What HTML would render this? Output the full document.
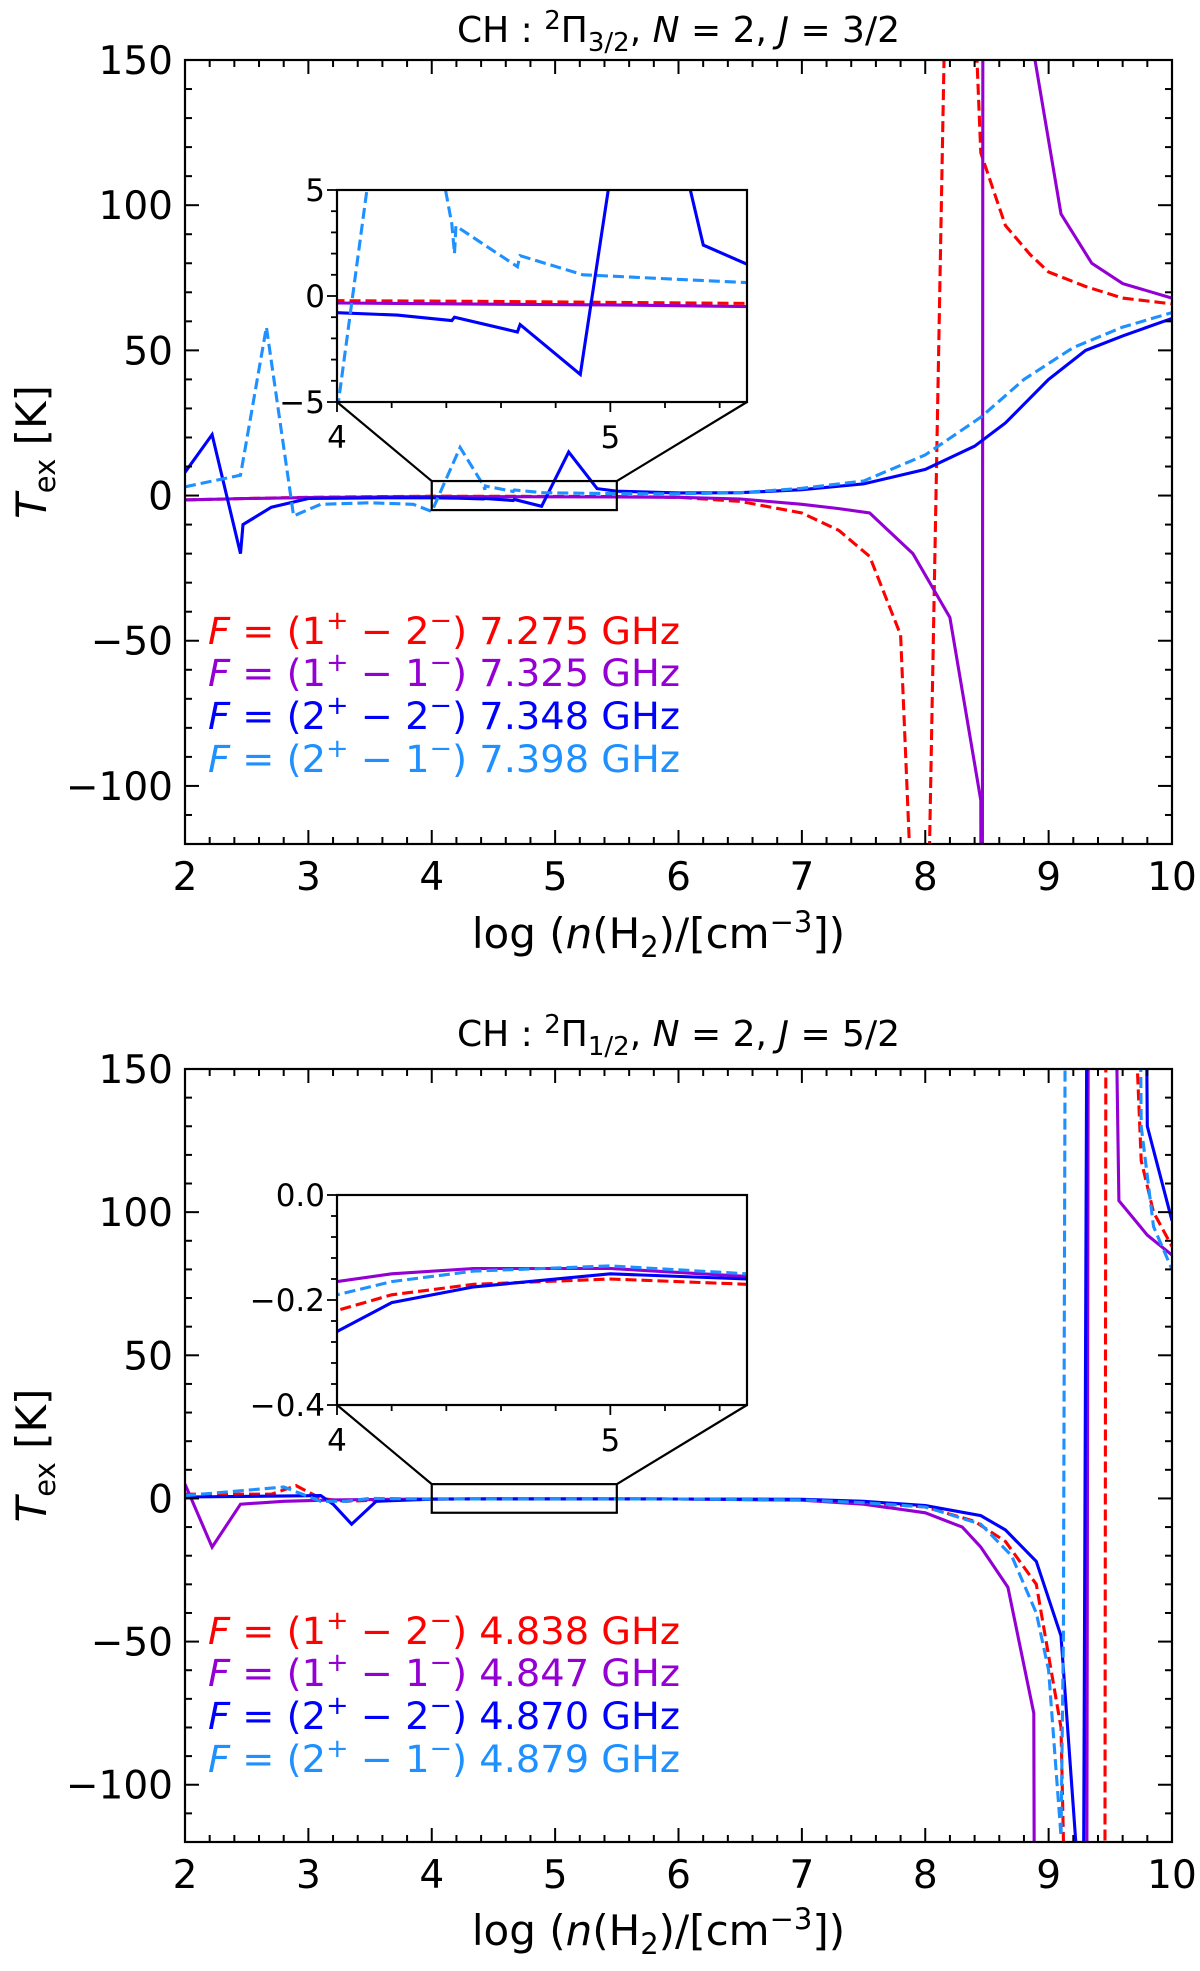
<!DOCTYPE html>
<html><head><meta charset="utf-8">
<style>
html,body{margin:0;padding:0;background:#fff;overflow:hidden;width:1200px;height:1971px;}
svg{display:block;font-family:"DejaVu Sans","Liberation Sans",sans-serif;}
</style></head>
<body>
<svg id="fig" width="1200" height="1971" viewBox="0 0 1200 1971" xmlns="http://www.w3.org/2000/svg"></svg>
<script>
// ---------- DATA (top panel: 2Pi3/2 N=2 J=3/2) ----------
const topRedX = [2,2.5,3,3.5,4,4.5,5,5.5,6,6.5,7,7.3,7.55,7.8,7.95,8.0,8.2,8.4,8.45,8.65,8.85,9.0,9.3,9.6,10];
const topRedY = [-1.5,-1,-0.6,-0.4,-0.22,-0.25,-0.3,-0.35,-0.6,-2,-6,-12,-21,-48,-200,-200,260,170,118,93,83,77,72,68,66];
const topPurX = [2,2.5,3,3.5,4,4.5,5,5.5,6,6.5,7,7.3,7.55,7.9,8.2,8.45,8.46,8.47,8.85,9.1,9.35,9.6,10];
const topPurY = [-1.5,-1,-0.7,-0.5,-0.33,-0.38,-0.42,-0.5,-0.6,-1.2,-3,-4.5,-6,-20,-42,-105,-400,400,160,97,80,73,68];
const topBluX = [2,2.22,2.45,2.47,2.7,3,3.5,4,4.22,4.42,4.43,4.66,4.67,4.89,5.11,5.34,5.5,6,6.5,7,7.5,8,8.4,8.65,9,9.3,9.6,10];
const topBluY = [8,21,-20,-10,-4,-1,-0.8,-0.79,-0.9,-1.16,-1.0,-1.7,-1.35,-3.7,15,2.4,1.5,0.9,1,2,4,9,17,25,40,50,55,61];
const topLbX = [2,2.45,2.66,2.88,3.1,3.5,3.85,4.0,4.23,4.42,4.43,4.435,4.66,4.67,4.9,5.5,6,6.5,7,7.5,8,8.45,8.8,9.2,9.6,10];
const topLbY = [3,7,58,-7,-3,-2.5,-3,-5.5,16.6,3.4,2.0,3.3,1.38,1.9,1.0,0.63,0.6,1.0,2.5,5,14,27,40,51,58,63];
// ---------- DATA (bottom panel: 2Pi1/2 N=2 J=5/2) ----------
const botRedX = [2,2.7,2.9,3.1,3.3,3.6,4,4.2,4.5,5,5.5,6,7,7.5,8,8.4,8.65,8.9,9.1,9.16,9.45,9.47,9.71,9.75,9.85,10];
const botRedY = [1.5,1.5,4.5,0,-1,-0.5,-0.22,-0.19,-0.17,-0.16,-0.17,-0.2,-0.5,-1.5,-3,-8,-15,-30,-80,-200,-400,400,160,118,100,88];
const botPurX = [2,2.22,2.45,2.8,3.2,4,4.2,4.5,5,5.5,6,7,7.5,8,8.3,8.45,8.67,8.88,8.9,9.3,9.33,9.55,9.57,9.8,10];
const botPurY = [5,-17,-2,-1,-0.5,-0.165,-0.15,-0.14,-0.14,-0.155,-0.2,-0.6,-2,-5,-10,-17,-31,-75,-400,-400,400,160,104,92,85];
const botBluX = [2,3.1,3.2,3.35,3.55,4,4.2,4.5,5,5.5,6,7,7.5,8,8.45,8.65,8.9,9.1,9.22,9.26,9.33,9.75,9.8,10];
const botBluY = [0.5,1,-2,-9,-1,-0.26,-0.205,-0.175,-0.15,-0.16,-0.2,-0.3,-1,-2.5,-6,-11,-22,-48,-120,-400,400,400,130,97];
const botLbX = [2,2.8,3.1,3.3,3.5,4,4.2,4.5,5,5.5,6,7,7.5,8,8.45,8.7,8.9,9.0,9.1,9.12,9.15,9.7,9.75,9.85,10];
const botLbY = [1,4,-1,-1,0,-0.19,-0.165,-0.145,-0.135,-0.15,-0.2,-0.5,-1.5,-3,-9,-20,-40,-60,-118,-48,400,400,130,95,80];
// ticks
const mainXTicks = [2,3,4,5,6,7,8,9,10];
const mainYTicks = [-100,-50,0,50,100,150];
const topInsetYTicks = [-5,0,5];
const botInsetYTicks = [-0.4,-0.2,0.0];
const botInsetYLabels = ["\u22120.4","\u22120.2","0.0"];
const insetXTicks = [4,5];
const topFreqs = ["7.275","7.325","7.348","7.398"];
const botFreqs = ["4.838","4.847","4.870","4.879"];
const transLo = ["1","1","2","2"];
const transUp = ["2","1","2","1"];

const NS="http://www.w3.org/2000/svg";
const svg=document.getElementById('fig');
function mk(tag,attrs,parent){const e=document.createElementNS(NS,tag);for(const k in attrs)e.setAttribute(k,attrs[k]);(parent||svg).appendChild(e);return e;}
const colors=["#ff0000","#9400d3","#0000ff","#1e90ff"];
const dashes=["11,5","none","none","11,5"];
const LW=3.1;

function panel(id,P){
  const g=mk('g',{});
  
  
  const sx=v=>P.x0+(v-2)/8*(P.x1-P.x0);
  const sy=v=>P.y1-(v-(-120))/270*(P.y1-P.y0);
  const clip=mk('clipPath',{id:id+'clip'},g);
  mk('rect',{x:P.x0,y:P.y0,width:P.x1-P.x0,height:P.y1-P.y0},clip);
  const sg=mk('g',{'clip-path':'url(#'+id+'clip)'},g);
  const names=['series-1p-2m','series-1p-1m','series-2p-2m','series-2p-1m'];
  P.series.forEach((s,i)=>{
    const pts=s[0].map((x,j)=>sx(x).toFixed(1)+','+sy(s[1][j]).toFixed(1)).join(' ');
    const pl=mk('polyline',{points:pts,fill:'none',stroke:colors[i],'stroke-width':LW,'stroke-dasharray':dashes[i],'stroke-linejoin':'miter'},sg);
    
    
  });
  const fr=mk('rect',{x:P.x0,y:P.y0,width:P.x1-P.x0,height:P.y1-P.y0,fill:'none',stroke:'#000','stroke-width':2.2},g);
  
  
  for(let k=0;k<=40;k++){const v=2+k*0.2;const X=sx(v);const major=(k%5===0);const L=major?14:7;
    mk('line',{x1:X,y1:P.y1,x2:X,y2:P.y1-L,stroke:'#000','stroke-width':2},g);
    mk('line',{x1:X,y1:P.y0,x2:X,y2:P.y0+L,stroke:'#000','stroke-width':2},g);}
  mainXTicks.forEach(v=>{const t=mk('text',{x:sx(v),y:P.y1+46,'font-size':39,'text-anchor':'middle'},g);t.textContent=v;
    });
  for(let v=-120;v<=150;v+=10){const Y=sy(v);const major=(v%50===0);const L=major?14:7;
    mk('line',{x1:P.x0,y1:Y,x2:P.x0+L,y2:Y,stroke:'#000','stroke-width':2},g);
    mk('line',{x1:P.x1,y1:Y,x2:P.x1-L,y2:Y,stroke:'#000','stroke-width':2},g);}
  mainYTicks.forEach(v=>{const t=mk('text',{x:P.x0-12,y:sy(v)+14,'font-size':39,'text-anchor':'end'},g);t.textContent=v<0?'\u2212'+(-v):v;
    });
  const ti=mk('text',{x:(P.x0+P.x1)/2,y:P.titleY,'font-size':36,'text-anchor':'middle'},g);
  
  ti.innerHTML='CH :  <tspan dy="-13" font-size="26">2</tspan><tspan dy="13">\u03A0</tspan><tspan dy="9" font-size="26">'+P.sub+'</tspan><tspan dy="-9">,  </tspan><tspan font-style="italic">N</tspan> = 2,  <tspan font-style="italic">J</tspan> = '+P.J;
  const xl=mk('text',{x:(P.x0+P.x1)/2-20,y:P.xlabY,'font-size':42,'text-anchor':'middle'},g);
  
  xl.innerHTML='log (<tspan font-style="italic">n</tspan>(H<tspan dy="9" font-size="29">2</tspan><tspan dy="-9">)/[cm</tspan><tspan dy="-16" font-size="29">\u22123</tspan><tspan dy="16">])</tspan>';
  const yc=(P.y0+P.y1)/2;
  const yl=mk('text',{x:0,y:0,'font-size':42,'text-anchor':'middle',transform:'translate(46,'+yc+') rotate(-90)'},g);
  
  yl.innerHTML='<tspan font-style="italic">T</tspan><tspan dy="9" font-size="29">ex</tspan><tspan dy="-9"> [K]</tspan>';
  P.freqs.forEach((f,i)=>{const t=mk('text',{x:208,y:P.legY[i]+14,'font-size':37,fill:colors[i],textLength:472,lengthAdjust:'spacingAndGlyphs'},g);
    
    t.innerHTML='<tspan font-style="italic">F</tspan> = (<tspan>'+transLo[i]+'</tspan><tspan dy="-15" font-size="26">+</tspan><tspan dy="15"> \u2212 '+transUp[i]+'</tspan><tspan dy="-15" font-size="26">\u2212</tspan><tspan dy="15">) '+f+' GHz</tspan>';});
  const zr=mk('rect',{x:sx(4),y:sy(5),width:sx(5.5)-sx(4),height:sy(-5)-sy(5),fill:'none',stroke:'#000','stroke-width':2.2},g);
  
  const I=P.inset;
  mk('line',{x1:I.x0,y1:I.y1,x2:sx(4),y2:sy(5),stroke:'#000','stroke-width':2.2},g);
  mk('line',{x1:I.x1,y1:I.y1,x2:sx(5.5),y2:sy(5),stroke:'#000','stroke-width':2.2},g);
  const ig=mk('g',{},g);
  
  const ix=v=>I.x0+(v-4)/1.5*(I.x1-I.x0);
  const iy=v=>I.y1-(v-I.lo)/(I.hi-I.lo)*(I.y1-I.y0);
  mk('rect',{x:I.x0,y:I.y0,width:I.x1-I.x0,height:I.y1-I.y0,fill:'#fff'},ig);
  const ic=mk('clipPath',{id:id+'iclip'},ig);
  mk('rect',{x:I.x0,y:I.y0,width:I.x1-I.x0,height:I.y1-I.y0},ic);
  const isg=mk('g',{'clip-path':'url(#'+id+'iclip)'},ig);
  P.series.forEach((s,i)=>{
    const pts=s[0].map((x,j)=>ix(x).toFixed(1)+','+iy(Math.max(-1000,Math.min(1000,s[1][j]))).toFixed(1)).join(' ');
    const pl=mk('polyline',{points:pts,fill:'none',stroke:colors[i],'stroke-width':LW,'stroke-dasharray':dashes[i]},isg);
    
    
  });
  mk('rect',{x:I.x0,y:I.y0,width:I.x1-I.x0,height:I.y1-I.y0,fill:'none',stroke:'#000','stroke-width':2.2},ig);
  for(let k=0;k<=7;k++){const v=4+k*0.2;const X=ix(v);const L=(k===0||k===5)?10:6;
    mk('line',{x1:X,y1:I.y1,x2:X,y2:I.y1+L,stroke:'#000','stroke-width':1.8},ig);}
  insetXTicks.forEach(v=>{const t=mk('text',{x:ix(v),y:I.y1+46,'font-size':31,'text-anchor':'middle'},ig);t.textContent=v;
    });
  const nMinor=10;
  for(let k=0;k<=nMinor;k++){const v=I.lo+k*(I.hi-I.lo)/nMinor;const Y=iy(v);const L=(k%5===0)?10:6;
    mk('line',{x1:I.x0,y1:Y,x2:I.x0-L,y2:Y,stroke:'#000','stroke-width':1.8},ig);}
  I.yt.forEach((v,j)=>{const t=mk('text',{x:I.x0-12,y:iy(v)+11,'font-size':31,'text-anchor':'end'},ig);t.textContent=I.yl[j];
    });
}

panel('top',{x0:185,x1:1172,y0:60,y1:844,titleY:42,sub:'3/2',J:'3/2',xlabY:948,
  legY:[630,672,715,758],freqs:topFreqs,
  series:[[topRedX,topRedY],[topPurX,topPurY],[topBluX,topBluY],[topLbX,topLbY]],
  inset:{x0:337,x1:747,y0:190,y1:402,lo:-5,hi:5,yt:topInsetYTicks,yl:["\u22125","0","5"]}});
panel('bottom',{x0:185,x1:1172,y0:1069,y1:1842,titleY:1046,sub:'1/2',J:'5/2',xlabY:1945,
  legY:[1630,1672,1715,1758],freqs:botFreqs,
  series:[[botRedX,botRedY],[botPurX,botPurY],[botBluX,botBluY],[botLbX,botLbY]],
  inset:{x0:337,x1:747,y0:1195,y1:1405,lo:-0.4,hi:0,yt:botInsetYTicks,yl:botInsetYLabels}});
</script>
</body></html>
